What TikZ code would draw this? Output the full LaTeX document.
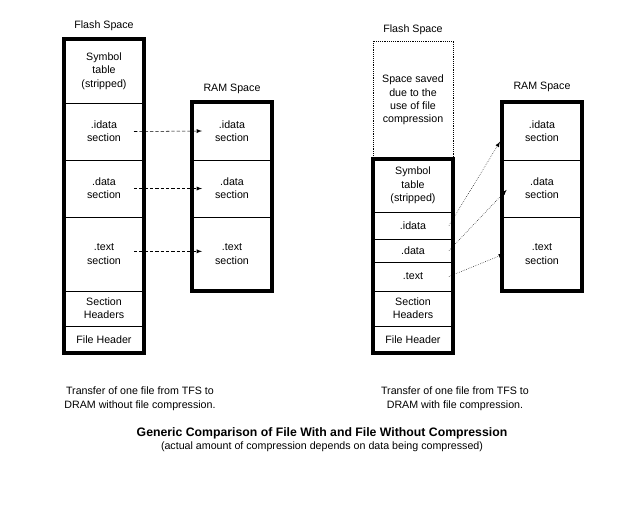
\documentclass[tikz,border=0pt]{standalone}
\usepackage{fontspec}
\setmainfont{Liberation Sans}
\usetikzlibrary{fit,positioning}

\begin{document}
\begin{tikzpicture}[x=0.75pt,y=-0.75pt]
\tikzstyle{sect}=[rectangle, draw=black, thin, minimum width=60pt, inner sep=0pt, outer sep=0pt, align=center, font=\fontsize{8}{10}\selectfont]
\tikzstyle{box}=[rectangle, draw=black, line width=3pt, inner sep=0pt]
\tikzstyle{saved}=[sect, densely dotted, minimum height=88.5pt]
\tikzstyle{txt}=[align=center, font=\fontsize{8}{10.5}\selectfont]
\tikzstyle{copy}=[-latex, dash pattern=on 2.5pt off 1.5pt]
\tikzstyle{unpack}=[-latex, densely dotted]
\useasboundingbox (0,0) rectangle (640,512);
  % without compression
  \node[sect, minimum height=48pt, anchor=north west] (fsym) at (64,39) {Symbol\\table\\(stripped)};
  \node[sect, minimum height=42.75pt] (fidata) [below=0pt of fsym] {.idata\\section};
  \node[sect, minimum height=42.75pt] (fdata) [below=0pt of fidata] {.data\\section};
  \node[sect, minimum height=55.5pt] (ftext) [below=0pt of fdata] {.text\\section};
  \node[sect, minimum height=26.25pt] (fsec) [below=0pt of ftext] {Section\\Headers};
  \node[sect, minimum height=20.25pt] (fhdr) [below=0pt of fsec] {File Header};
  \node[box, fit=(fsym)(fhdr)] (flash) {};
  \node[txt] (flashlbl) [above=1.5pt of flash] {Flash Space};

  \node[sect, minimum height=43.5pt, anchor=north west] (ridata) at (192,102) {.idata\\section};
  \node[sect, minimum height=42.75pt] (rdata) [below=0pt of ridata] {.data\\section};
  \node[sect, minimum height=55.5pt] (rtext) [below=0pt of rdata] {.text\\section};
  \node[box, fit=(ridata)(rtext)] (ram) {};
  \node[txt] (ramlbl) [above=1.5pt of ram] {RAM Space};

  \draw[copy] ([xshift=-7.5pt]fidata.east) -- ([xshift=7.5pt]ridata.west);
  \draw[copy] ([xshift=-7.5pt]fdata.east) -- ([xshift=7.5pt]rdata.west);
  \draw[copy] ([xshift=-7.5pt,yshift=2pt]ftext.east) -- ([xshift=7.5pt,yshift=2pt]rtext.west);

  % with compression
  \node[saved, anchor=north west] (csaved) at (373,41) {Space saved\\due to the\\use of file\\compression};
  \node[txt] (cflashlbl) [above=1.5pt of csaved] {Flash Space};
  \node[sect, minimum height=39.75pt] (csym) [below=0pt of csaved] {Symbol\\table\\(stripped)};
  \node[sect, minimum height=20.25pt] (cidata) [below=0pt of csym] {.idata};
  \node[sect, minimum height=17.25pt] (cdata) [below=0pt of cidata] {.data};
  \node[sect, minimum height=21.75pt] (ctext) [below=0pt of cdata] {.text};
  \node[sect, minimum height=26.25pt] (csec) [below=0pt of ctext] {Section\\Headers};
  \node[sect, minimum height=20.25pt] (chdr) [below=0pt of csec] {File Header};
  \node[box, fit=(csym)(chdr)] (cflash) {};

  \node[sect, minimum height=43.5pt, anchor=north west] (cridata) at (502,102) {.idata\\section};
  \node[sect, minimum height=42.75pt] (crdata) [below=0pt of cridata] {.data\\section};
  \node[sect, minimum height=55.5pt] (crtext) [below=0pt of crdata] {.text\\section};
  \node[box, fit=(cridata)(crtext)] (cram) {};
  \node[txt] (cramlbl) [above=2.5pt of cram] {RAM Space};

  \draw[unpack] ([xshift=-3pt]cidata.east) -- ([xshift=-1.5pt,yshift=-8pt]cridata.west);
  \draw[unpack] ([xshift=-3pt]cdata.east) -- ([xshift=3.5pt,yshift=-1pt]crdata.west);
  \draw[unpack] ([xshift=-3pt]ctext.east) -- ([xshift=1.5pt]crtext.west);

  % captions
  \node[txt] (capa) at (140,399) {Transfer of one file from TFS to\\DRAM without file compression.};
  \node[txt] (capb) at (455,399) {Transfer of one file from TFS to\\DRAM with file compression.};
  \node[font=\fontsize{9.2}{11}\selectfont\bfseries] (title) at (322,433) {Generic Comparison of File With and File Without Compression};
  \node[txt] (sub) at (322,447) {(actual amount of compression depends on data being compressed)};
\end{tikzpicture}
\end{document}
